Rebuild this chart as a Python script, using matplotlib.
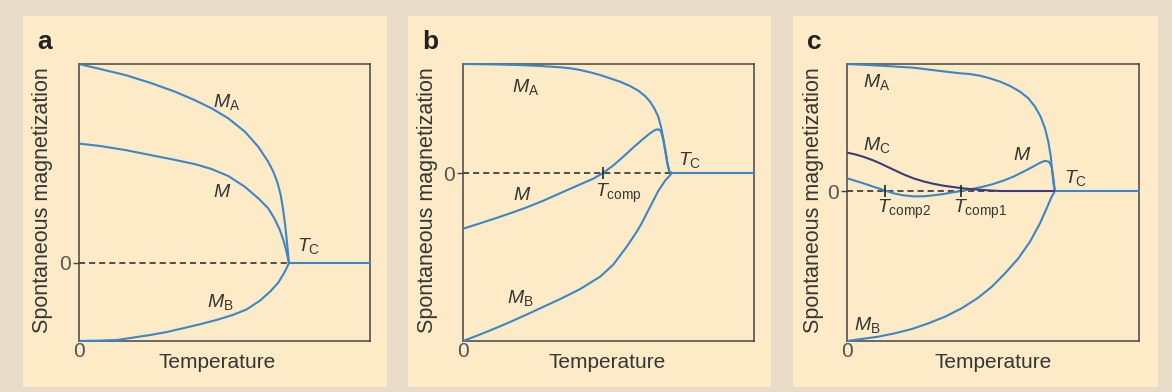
import matplotlib.pyplot as plt
from matplotlib.patches import Rectangle

plt.rcParams['font.family'] = ['Liberation Sans', 'DejaVu Sans']
plt.rcParams['mathtext.fontset'] = 'custom'
plt.rcParams['mathtext.rm'] = 'Liberation Sans'
plt.rcParams['mathtext.it'] = 'Liberation Sans:italic'
plt.rcParams['mathtext.bf'] = 'Liberation Sans:bold'

# temperatures in units of T_C, magnetization in units of M_A(0)

# a: no compensation point
a_T_MA = [0, 0.100, 0.219, 0.338, 0.457, 0.552, 0.632, 0.711, 0.790, 0.854, 0.901, 0.925,
          0.945, 0.960, 0.972, 0.982, 0.990, 0.996, 1.0]
a_MA = [1.0, 0.975, 0.945, 0.906, 0.861, 0.818, 0.777, 0.727, 0.660, 0.584, 0.509, 0.460,
        0.405, 0.345, 0.270, 0.190, 0.110, 0.045, 0]
a_T_M = [0, 0.100, 0.219, 0.338, 0.457, 0.552, 0.632, 0.711, 0.790, 0.854, 0.901, 0.930,
         0.955, 0.972, 0.985, 0.994, 1.0]
a_M = [0.600, 0.588, 0.568, 0.543, 0.518, 0.497, 0.472, 0.437, 0.383, 0.325, 0.275, 0.225,
       0.170, 0.120, 0.070, 0.028, 0]
a_T_MB = [0, 0.100, 0.180, 0.257, 0.338, 0.418, 0.495, 0.576, 0.656, 0.733, 0.799, 0.862,
          0.910, 0.949, 0.976, 0.992, 1.0]
a_MB = [-0.392, -0.390, -0.387, -0.375, -0.362, -0.347, -0.328, -0.308, -0.286, -0.261,
        -0.233, -0.189, -0.144, -0.099, -0.052, -0.019, 0]

# b: one compensation point
b_T_MA = [0, 0.129, 0.257, 0.368, 0.464, 0.512, 0.560, 0.608, 0.656, 0.703, 0.751, 0.799,
          0.839, 0.871, 0.895, 0.915, 0.934, 0.947, 0.958, 0.968, 0.977, 0.987, 1.0]
b_MA = [1.0, 0.997, 0.991, 0.982, 0.970, 0.961, 0.945, 0.924, 0.899, 0.869, 0.838, 0.798,
        0.755, 0.706, 0.654, 0.594, 0.517, 0.425, 0.318, 0.211, 0.104, 0.012, 0]
b_T_M = [0, 0.066, 0.145, 0.225, 0.305, 0.384, 0.464, 0.544, 0.623, 0.670, 0.719, 0.767,
         0.815, 0.863, 0.895, 0.919, 0.934, 0.947, 0.958, 0.968, 0.977, 0.987, 1.0]
b_M = [-0.511, -0.471, -0.422, -0.370, -0.315, -0.254, -0.186, -0.118, -0.052, 0.0, 0.070,
       0.150, 0.235, 0.315, 0.365, 0.395, 0.401, 0.385, 0.303, 0.195, 0.089, 0.012, 0]
b_T_MB = [0, 0.066, 0.145, 0.225, 0.305, 0.368, 0.464, 0.560, 0.656, 0.719, 0.783, 0.831,
          0.855, 0.895, 0.934, 0.967, 1.0]
b_MB = [-1.541, -1.493, -1.432, -1.367, -1.298, -1.242, -1.157, -1.065, -0.951, -0.840,
        -0.676, -0.539, -0.460, -0.310, -0.165, -0.070, 0]
b_Tcomp = [0.670]

# c: three sublattices, two compensation points
c_T_MA = [0, 0.159, 0.319, 0.479, 0.543, 0.591, 0.639, 0.688, 0.736, 0.784, 0.832, 0.872,
          0.904, 0.931, 0.952, 0.968, 0.980, 0.987, 0.994, 1.0]
c_MA = [1.0, 0.987, 0.971, 0.939, 0.927, 0.921, 0.908, 0.887, 0.861, 0.827, 0.782, 0.730,
        0.664, 0.585, 0.494, 0.388, 0.270, 0.152, 0.047, 0]
c_T_M = [0, 0.038, 0.078, 0.127, 0.175, 0.223, 0.271, 0.319, 0.367, 0.415, 0.463, 0.511,
         0.559, 0.607, 0.655, 0.703, 0.751, 0.800, 0.848, 0.896, 0.928, 0.952, 0.971,
         0.984, 0.990, 0.996, 1.0]
c_M = [0.100, 0.081, 0.061, 0.034, 0.008, -0.018, -0.034, -0.042, -0.042, -0.034, -0.024,
       -0.010, 0.002, 0.018, 0.034, 0.055, 0.081, 0.113, 0.152, 0.193, 0.222, 0.238, 0.230,
       0.191, 0.126, 0.047, 0]
c_T_MB = [0, 0.071, 0.150, 0.231, 0.311, 0.391, 0.471, 0.551, 0.631, 0.696, 0.760, 0.824,
          0.880, 0.928, 0.960, 0.984, 1.0]
c_MB = [-1.181, -1.165, -1.147, -1.120, -1.087, -1.042, -0.990, -0.924, -0.840, -0.754,
        -0.648, -0.530, -0.399, -0.254, -0.136, -0.045, 0]
c_T_MC = [0, 0.038, 0.078, 0.119, 0.159, 0.199, 0.239, 0.279, 0.319, 0.367, 0.415, 0.463,
          0.511, 0.559, 0.607, 0.672, 0.736, 1.0]
c_MC = [0.302, 0.289, 0.270, 0.246, 0.218, 0.187, 0.156, 0.126, 0.100, 0.076, 0.057, 0.042,
        0.031, 0.021, 0.013, 0.006, 0.0, 0.0]
c_Tcomp = [0.185, 0.55]

Tc = 1.0

BLUE = '#3b86c6'
NAVY = '#3e3b7c'
INK = '#363636'
OUTER = '#e8dcc8'
PANEL = '#fdebc8'

W, H = 1172, 392
fig = plt.figure(figsize=(W / 100, H / 100), dpi=100, facecolor=OUTER)


def fx(px):
    return px / W


def fy(py):
    return 1 - py / H


panels = [
    dict(letter='a', frame=(23, 387), box=(79, 370), xlim=1.386, ylim=(-0.392, 1.0),
         curves=[(a_T_MA, a_MA, BLUE), (a_T_M, a_M, BLUE), (a_T_MB, a_MB, BLUE)],
         comps=[],
         labels=[(r'$M_{\rm A}$', 0.638, 0.784), (r'$M$', 0.638, 0.332),
                 (r'$M_{\rm B}$', 0.610, -0.221), (r'$T_{\rm C}$', 1.038, 0.060)],
         ylab_x=43, xlab_x=217),
    dict(letter='b', frame=(408, 771), box=(463, 754), xlim=1.392, ylim=(-1.541, 1.0),
         curves=[(b_T_MA, b_MA, BLUE), (b_T_M, b_M, BLUE), (b_T_MB, b_MB, BLUE)],
         comps=[(b_Tcomp[0], r'$T_{\rm comp}$', -0.220)],
         labels=[(r'$M_{\rm A}$', 0.234, 0.743), (r'$M$', 0.239, -0.248),
                 (r'$M_{\rm B}$', 0.211, -1.193), (r'$T_{\rm C}$', 1.029, 0.073)],
         ylab_x=427, xlab_x=607),
    dict(letter='c', frame=(793, 1158), box=(847, 1139), xlim=1.404, ylim=(-1.181, 1.0),
         curves=[(c_T_MA, c_MA, BLUE), (c_T_M, c_M, BLUE), (c_T_MB, c_MB, BLUE),
                 (c_T_MC, c_MC, NAVY)],
         comps=[(c_Tcomp[0], r'$T_{\rm comp2}$', -0.173), (c_Tcomp[1], r'$T_{\rm comp1}$', -0.173)],
         labels=[(r'$M_{\rm A}$', 0.076, 0.821), (r'$M_{\rm C}$', 0.077, 0.323),
                 (r'$M$', 0.798, 0.244), (r'$T_{\rm C}$', 1.043, 0.063),
                 (r'$M_{\rm B}$', 0.034, -1.094)],
         ylab_x=814, xlab_x=993),
]

for p in panels:
    x0, x1 = p['frame']
    fig.add_artist(Rectangle((fx(x0), fy(387)), fx(x1 - x0), (387 - 16) / H,
                             transform=fig.transFigure, facecolor=PANEL, edgecolor='none',
                             zorder=0))
    l, r = p['box']
    ax = fig.add_axes([fx(l), fy(341), fx(r - l), 277 / H])
    ax.set_facecolor('none')
    ax.set_xlim(0, p['xlim'])
    ax.set_ylim(*p['ylim'])
    for s in ax.spines.values():
        s.set_color('#444444')
        s.set_linewidth(1.1)

    # zero line below T_C, paramagnetic branch above it
    ax.plot([0, Tc], [0, 0], ls=(0, (4, 2.6)), color='#222222', lw=1.1, zorder=2)
    ax.plot([Tc, p['xlim']], [0, 0], color=BLUE, lw=1.5, zorder=3, clip_on=False)
    for t, m, col in p['curves']:
        ax.plot(t, m, color=col, lw=1.5, zorder=4, clip_on=False,
                solid_joinstyle='round', solid_capstyle='butt')

    for tcomp, txt, ty in p['comps']:
        ax.plot([tcomp], [0], marker='|', ms=9, mew=1.2, color='#222222', zorder=5)
        ax.text(tcomp - 0.04, ty, txt, fontsize=14, color=INK, ha='left', va='baseline')

    for txt, tx, ty in p['labels']:
        ax.text(tx, ty, txt, fontsize=14, color=INK, ha='left', va='baseline')

    ax.set_yticks([0])
    ax.set_yticklabels(['0'])
    ax.set_xticks([0])
    ax.set_xticklabels(['0'])
    ax.tick_params(axis='y', length=4, width=1, color='#444444', pad=1.5,
                   labelsize=15, labelcolor='#555555')
    ax.tick_params(axis='x', length=0, pad=1, labelsize=15, labelcolor='#555555')

    fig.text(fx(p['ylab_x']), fy(200), 'Spontaneous magnetization', rotation=90,
             fontsize=15.5, color=INK, ha='center', va='center')
    fig.text(fx(p['xlab_x']), fy(363), 'Temperature', fontsize=15, color=INK,
             ha='center', va='center')
    fig.text(fx(x0 + 14), fy(49), p['letter'], fontsize=19, fontweight='bold',
             color='#222222', ha='left', va='baseline')

fig.savefig('out.png', dpi=100, facecolor=OUTER)
